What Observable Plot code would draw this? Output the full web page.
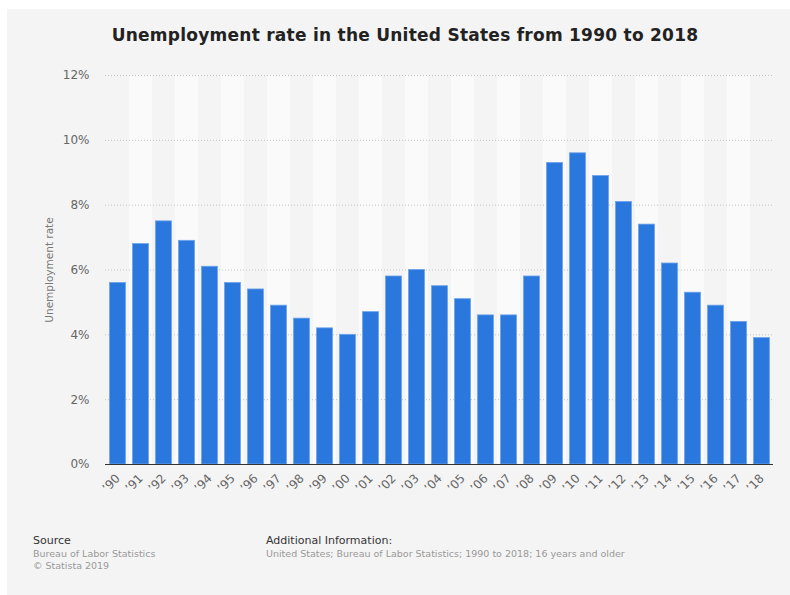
<!DOCTYPE html>
<html><head><meta charset="utf-8">
<script src="https://cdn.jsdelivr.net/npm/d3@7"></script>
<script src="https://cdn.jsdelivr.net/npm/@observablehq/plot@0.6"></script>
<style>
body{margin:0;background:#fff;font-family:"DejaVu Sans",sans-serif;}
#panel{position:absolute;left:7px;top:9px;width:783px;height:586px;background:#f4f4f4;overflow:hidden;}
#title{position:absolute;left:0;top:17px;width:796px;text-align:center;font-weight:bold;font-size:17px;letter-spacing:0.25px;line-height:19px;color:#222;}
#chart{position:absolute;left:0;top:50px;}
.ft{position:absolute;white-space:nowrap;line-height:13px;}
.h{font-size:11px;color:#333;}
.g{font-size:9.5px;color:#999;}
</style></head>
<body>
<div id="panel">
  <div id="title">Unemployment rate in the United States from 1990 to 2018</div>
  <div id="chart"></div>
  <div class="ft h" style="left:26px;top:525px;">Source</div>
  <div class="ft g" style="left:26px;top:538px;">Bureau of Labor Statistics</div>
  <div class="ft g" style="left:26px;top:550px;">© Statista 2019</div>
  <div class="ft h" style="left:259px;top:525px;">Additional Information:</div>
  <div class="ft g" style="left:259px;top:538px;">United States; Bureau of Labor Statistics; 1990 to 2018; 16 years and older</div>
</div>
<script>
const years = ["1990","1991","1992","1993","1994","1995","1996","1997","1998","1999","2000","2001","2002","2003","2004","2005","2006","2007","2008","2009","2010","2011","2012","2013","2014","2015","2016","2017","2018"];
const yearLabels = ["’90","’91","’92","’93","’94","’95","’96","’97","’98","’99","’00","’01","’02","’03","’04","’05","’06","’07","’08","’09","’10","’11","’12","’13","’14","’15","’16","’17","’18"];
const rates = [5.6,6.8,7.5,6.9,6.1,5.6,5.4,4.9,4.5,4.2,4.0,4.7,5.8,6.0,5.5,5.1,4.6,4.6,5.8,9.3,9.6,8.9,8.1,7.4,6.2,5.3,4.9,4.4,3.9];
const yTicks = [0,2,4,6,8,10,12];
const yAxisLabel = "Unemployment rate";

const data = years.map((y, i) => ({year: y, rate: rates[i]}));
const labelOf = new Map(years.map((y, i) => [y, yearLabels[i]]));
const shaded = years.filter((y, i) => i % 2 === 1);

const chart = Plot.plot({
  width: 783, height: 460,
  marginLeft: 98, marginRight: 17, marginTop: 16, marginBottom: 55,
  style: {background: "transparent", fontFamily: "DejaVu Sans", fontSize: "12px", color: "#666"},
  x: {domain: years, padding: 0, label: null},
  y: {domain: [0, 12], label: null},
  marks: [
    Plot.barY(shaded, {x: d => d, y1: 0, y2: 12, fill: "#fafafa"}),
    Plot.gridY(yTicks, {stroke: "#c4c4c4", strokeOpacity: 1, strokeDasharray: "1,2"}),
    Plot.barY(data, {x: "year", y: "rate", fill: "#2a78de", stroke: "#6fa3ea", strokeWidth: 0.8, insetLeft: 3.5, insetRight: 3.5}),
    Plot.ruleY([0], {stroke: "#333", strokeWidth: 1.2}),
    Plot.axisY(yTicks, {tickSize: 0, tickPadding: 16, tickFormat: d => d + "%", fill: "#666", fontSize: 12, label: null}),
    Plot.axisX(years, {tickSize: 0, tickPadding: 12, tickRotate: -45, tickFormat: d => labelOf.get(d), fill: "#666", fontSize: 12, label: null}),
    Plot.text([yAxisLabel], {frameAnchor: "left", textAnchor: "middle", rotate: -90, dx: -56, fill: "#777", fontSize: 10.5})
  ]
});
document.getElementById("chart").appendChild(chart);
</script>
</body></html>
